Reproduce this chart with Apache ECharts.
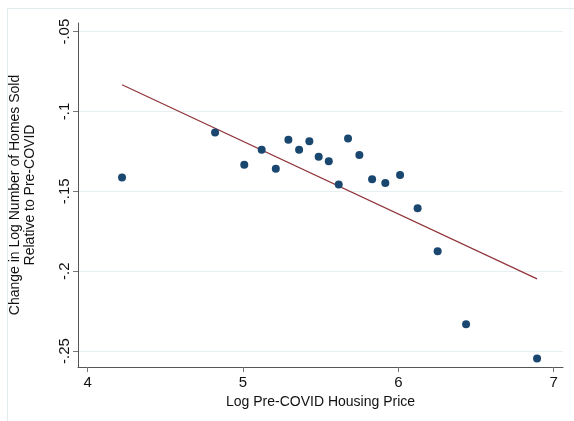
<!DOCTYPE html>
<html>
<head>
<meta charset="utf-8">
<script src="https://cdn.jsdelivr.net/npm/echarts@6/dist/echarts.min.js"></script>
<style>
html,body{margin:0;padding:0;background:#fff;}
#c{width:574px;height:421px;}
</style>
</head>
<body>
<div id="c"></div>
<script>
// Data
const logPrice = [4.221, 4.820, 5.008, 5.120, 5.211, 5.292, 5.361, 5.427, 5.487, 5.552,
                  5.616, 5.676, 5.749, 5.831, 5.916, 6.011, 6.124, 6.253, 6.436, 6.893];
const changeSold = [-0.1413, -0.1131, -0.1333, -0.1240, -0.1358, -0.1177, -0.1240, -0.1186, -0.1283, -0.1311,
                    -0.1458, -0.1169, -0.1273, -0.1425, -0.1448, -0.1398, -0.1606, -0.1875, -0.2333, -0.2546];
const fitX = [4.221, 6.893];
const fitY = [-0.0833, -0.2048];
const xTicks = [4, 5, 6, 7];
const yTicks = [-0.25, -0.2, -0.15, -0.1, -0.05];
const yTickLabels = ['-.25', '-.2', '-.15', '-.1', '-.05'];

const points = logPrice.map((x, i) => [x, changeSold[i]]);
const fitLine = fitX.map((x, i) => [x, fitY[i]]);

const chart = echarts.init(document.getElementById('c'), null, {renderer: 'canvas'});
const font = 'Liberation Sans, Arial, Helvetica, sans-serif';
chart.setOption({
  animation: false,
  backgroundColor: '#ffffff',
  graphic: [{
    type: 'rect', silent: true, z: -10,
    shape: {x: 7.5, y: 8.5, width: 700, height: 600},
    style: {fill: 'none', stroke: '#e2ebee', lineWidth: 1}
  }],
  grid: {left: 78, right: 11, top: 23, bottom: 54},
  xAxis: {
    type: 'value', min: 3.9375, max: 7.06,
    axisLine: {show: true, onZero: false, lineStyle: {color: '#555', width: 1}},
    axisTick: {show: true, length: 5, lineStyle: {color: '#777'}, customValues: xTicks},
    axisLabel: {customValues: xTicks, fontSize: 15, color: '#111', fontFamily: font, margin: 8,
                formatter: v => String(v)},
    splitLine: {show: false},
    name: 'Log Pre-COVID Housing Price', nameLocation: 'middle', nameGap: 23,
    nameTextStyle: {fontSize: 14, color: '#111', fontFamily: font}
  },
  yAxis: {
    type: 'value', min: -0.26, max: -0.0446,
    axisLine: {show: true, onZero: false, lineStyle: {color: '#555', width: 1}},
    axisTick: {show: true, length: 5, lineStyle: {color: '#777'}, customValues: yTicks},
    axisLabel: {customValues: yTicks, rotate: 90, fontSize: 15, color: '#111', fontFamily: font, margin: 6,
                formatter: v => { const i = yTicks.findIndex(t => Math.abs(t - v) < 1e-9); return i >= 0 ? yTickLabels[i] : ''; }},
    splitLine: {show: false},
    name: 'Change in Log Number of Homes Sold\nRelative to Pre-COVID', nameLocation: 'middle', nameGap: 40,
    nameRotate: 90,
    nameTextStyle: {fontSize: 14, lineHeight: 15, color: '#111', fontFamily: font}
  },
  series: [
    {
      type: 'line', data: [], silent: true, z: 0,
      markLine: {
        silent: true, symbol: 'none', label: {show: false}, z: 0,
        lineStyle: {color: '#e6eff1', width: 1, type: 'solid'},
        data: yTicks.map(v => ({yAxis: v}))
      }
    },
    {
      type: 'line', data: fitLine, showSymbol: false, symbol: 'none',
      lineStyle: {color: '#90353b', width: 1.2}, z: 6
    },
    {
      type: 'scatter', data: points, symbolSize: 8,
      itemStyle: {color: '#1a476f', opacity: 1}, z: 7
    }
  ]
});
</script>
</body>
</html>
